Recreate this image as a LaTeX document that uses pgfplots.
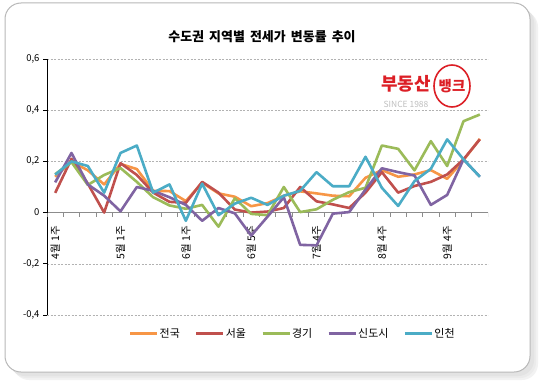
\documentclass[border=0pt]{standalone}
\usepackage{fontspec}
\usepackage{pgfplots}
\usepackage{pgfplotstable}
\pgfplotsset{compat=1.18}
\setmainfont{Noto Sans CJK KR}
\definecolor{cOr}{HTML}{F79646}
\definecolor{cRd}{HTML}{C0504D}
\definecolor{cGr}{HTML}{9BBB59}
\definecolor{cPu}{HTML}{8064A2}
\definecolor{cTe}{HTML}{4BACC6}
\definecolor{logo}{HTML}{DC1F26}

% x: week index; jg=전국, su=서울, gg=경기, sd=신도시, ic=인천
\pgfplotstableread{
x  jg     su     gg     sd     ic
0  0.140  0.077  0.150  0.118  0.148
1  0.200  0.210  0.197  0.233  0.200
2  0.165  0.113  0.108  0.110  0.182
3  0.110  0.000  0.147  0.066  0.078
4  0.190  0.193  0.174  0.005  0.233
5  0.170  0.147  0.120  0.100  0.262
6  0.085  0.078  0.060  0.085  0.078
7  0.084  0.042  0.028  0.060  0.110
8  0.045  0.038  0.015  0.030  -0.032
9  0.117  0.120  0.030  -0.032 0.113
10 0.075  0.078  -0.055 0.018  -0.010
11 0.062  0.012  0.056  -0.003 0.035
12 0.025  0.000  -0.005 -0.090 0.058
13 0.037  0.004  -0.010 -0.016 0.030
14 0.066  0.018  0.100  0.060  0.066
15 0.083  0.100  0.002  -0.126 0.085
16 0.075  0.044  0.013  -0.128 0.158
17 0.066  0.032  0.050  -0.004 0.103
18 0.064  0.018  0.080  0.002  0.103
19 0.136  0.078  0.097  0.090  0.218
20 0.166  0.158  0.262  0.173  0.097
21 0.140  0.078  0.249  0.158  0.026
22 0.149  0.104  0.165  0.145  0.123
23 0.166  0.120  0.279  0.030  0.171
24 0.132  0.149  0.182  0.069  0.286
25 0.205  0.208  0.357  0.208  0.208
26 0.288  0.286  0.383  0.140  0.140
}\data

\begin{document}
\begin{tikzpicture}
\begin{scope}[x=1bp,y=1bp]
\useasboundingbox (0,0) rectangle (548,388);
% frame with soft shadow
\fill[black!5, rounded corners=16bp] (13,8) rectangle (538,377);
\fill[black!8, rounded corners=16bp] (11,10) rectangle (536,379);
\fill[black!11, rounded corners=16bp] (9,12) rectangle (534,381);
\filldraw[fill=white, draw=black!28, line width=1bp, rounded corners=16bp] (5,16) rectangle (530,385);
% title
\node[font=\bfseries\fontsize{13}{14}\selectfont] at (262,351) {수도권\, 지역별\, 전세가\, 변동률\, 추이};
% logo
\node[font=\bfseries\fontsize{18}{19}\selectfont, text=logo, inner sep=0] at (406,304) {부동산};
\node[font=\fontsize{8.5}{9}\selectfont, text=black!25, inner sep=0] at (406,284) {SINCE 1988};
\draw[logo, line width=1.6bp] (452,302) ellipse (18 and 21);
\node[font=\bfseries\fontsize{14.5}{15}\selectfont, text=logo, inner sep=0] at (452,302) {뱅크};
\end{scope}

\begin{axis}[
  at={(47bp,73bp)}, anchor=south west, scale only axis,
  width=441bp, height=256bp,
  xmin=-0.5, xmax=26.5, ymin=-0.4, ymax=0.6,
  axis y line*=left, axis x line*=middle,
  y axis line style={black, line width=0.8bp},
  x axis line style={black!45, line width=1.2bp},
  ytick={-0.4,-0.2,0,0.2,0.4,0.6},
  yticklabels={{-0,4},{-0,2},0,{0,2},{0,4},{0,6}},
  ymajorgrids, grid style={black!30, dash pattern=on 2bp off 1.5bp, line width=0.6bp},
  ytick style={black, line width=0.8bp}, tick align=outside, major tick length=4bp,
  xtick={0,4,...,24},
  xticklabels={4월 1주,5월 1주,6월 1주,6월 5주,7월 4주,8월 4주,9월 4주},
  xtick style={draw=none},
  xticklabel style={rotate=90, anchor=east, font=\fontsize{10.5}{11}\selectfont, xshift=-6bp},
  yticklabel style={font=\fontsize{9.5}{11}\selectfont},
  legend columns=5,
  legend style={draw=none, fill=none, at={(0.556,-0.074)}, anchor=center,
    font=\fontsize{11}{12}\selectfont, nodes={inner xsep=1bp},
    /tikz/every even column/.append style={column sep=14bp}},
  legend image code/.code={\draw[#1, line width=3bp] (0bp,0bp) -- (27bp,0bp);},
  every axis plot/.append style={line width=2.6bp, line join=round},
]
\pgfplotsinvokeforeach{0,...,27}{\draw[black!45, line width=0.8bp] (axis cs:{#1-0.5},0) -- ([yshift=-4bp]axis cs:{#1-0.5},0);}
\addplot[cOr] table[x=x, y=jg] {\data};
\addlegendentry{전국}
\addplot[cRd] table[x=x, y=su] {\data};
\addlegendentry{서울}
\addplot[cGr] table[x=x, y=gg] {\data};
\addlegendentry{경기}
\addplot[cPu] table[x=x, y=sd] {\data};
\addlegendentry{신도시}
\addplot[cTe] table[x=x, y=ic] {\data};
\addlegendentry{인천}
\end{axis}
\end{tikzpicture}
\end{document}
